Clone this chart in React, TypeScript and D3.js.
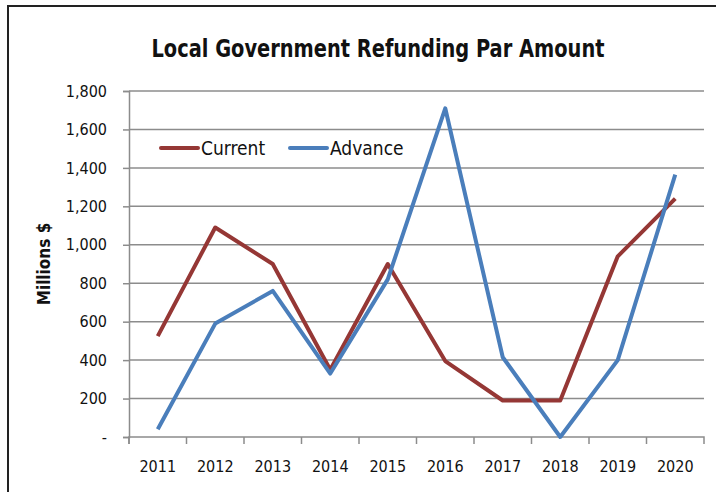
import React, { useEffect, useRef } from "react";
import * as d3 from "d3";

const years = ["2011", "2012", "2013", "2014", "2015", "2016", "2017", "2018", "2019", "2020"];
const current = [525, 1090, 900, 350, 900, 395, 190, 190, 940, 1240];
const advance = [40, 590, 760, 330, 820, 1710, 415, 0, 400, 1365];
const yTicks = [0, 200, 400, 600, 800, 1000, 1200, 1400, 1600, 1800];

const FONT = "'DejaVu Sans Condensed', 'Liberation Sans Narrow', 'Liberation Sans', Arial, sans-serif";

const App = () => {
  const svgRef = useRef<SVGSVGElement>(null);

  useEffect(() => {
    const width = 716, height = 492;
    const left = 129, right = 704, top = 91, bottom = 437;

    const svg = d3.select(svgRef.current)
      .attr("width", width)
      .attr("height", height)
      .style("position", "absolute")
      .style("left", "0px")
      .style("top", "0px")
      .style("background", "#fff");
    svg.selectAll("*").remove();

    // outer frame (top + left only visible)
    svg.append("line").attr("x1", 7).attr("x2", width).attr("y1", 6).attr("y2", 6)
      .attr("stroke", "#222").attr("stroke-width", 2);
    svg.append("line").attr("x1", 8).attr("x2", 8).attr("y1", 6).attr("y2", height)
      .attr("stroke", "#222").attr("stroke-width", 2);

    const x = d3.scaleBand().domain(years).range([left, right]);
    const y = d3.scaleLinear().domain([0, 1800]).range([bottom, top]);

    // gridlines
    svg.append("g").selectAll("line")
      .data(yTicks.filter(d => d > 0))
      .enter().append("line")
      .attr("x1", left).attr("x2", right)
      .attr("y1", d => y(d)).attr("y2", d => y(d))
      .attr("stroke", "#8c8c8c").attr("stroke-width", 1.5);

    const yAxis = svg.append("g")
      .attr("transform", `translate(${left},0)`)
      .call(d3.axisLeft(y).tickValues(yTicks).tickSize(6).tickPadding(16)
        .tickFormat(d => (+d === 0 ? "-" : d3.format(",")(+d))));
    yAxis.select(".domain").attr("stroke", "#8c8c8c").attr("stroke-width", 1.5);
    yAxis.selectAll(".tick line").attr("stroke", "#8c8c8c").attr("stroke-width", 1.5);
    yAxis.selectAll("text").attr("font-family", FONT).attr("font-size", 16).attr("fill", "#111");

    const xAxis = svg.append("g")
      .attr("transform", `translate(0,${bottom})`)
      .call(d3.axisBottom(x).tickSize(0).tickPadding(24));
    xAxis.select(".domain").attr("stroke", "#8c8c8c").attr("stroke-width", 1.5)
      .attr("d", `M${left},7V0H${right}V7`);
    xAxis.selectAll("text").attr("font-family", FONT).attr("font-size", 16).attr("fill", "#111");

    // x tick marks at band boundaries
    svg.append("g").selectAll("line")
      .data(years)
      .enter().append("line")
      .attr("x1", d => x(d)!).attr("x2", d => x(d)!)
      .attr("y1", bottom).attr("y2", bottom + 7)
      .attr("stroke", "#8c8c8c").attr("stroke-width", 1.5);

    const line = d3.line<number>()
      .x((_, i) => x(years[i])! + x.bandwidth() / 2)
      .y(d => y(d));

    svg.append("path").datum(current)
      .attr("d", line).attr("fill", "none")
      .attr("stroke", "#953735").attr("stroke-width", 4).attr("stroke-linejoin", "round");
    svg.append("path").datum(advance)
      .attr("d", line).attr("fill", "none")
      .attr("stroke", "#4a7ebb").attr("stroke-width", 4).attr("stroke-linejoin", "round");

    // legend
    const legend = [
      { name: "Current", color: "#953735", x: 161 },
      { name: "Advance", color: "#4a7ebb", x: 290 }
    ];
    const lg = svg.append("g").selectAll("g").data(legend).enter().append("g");
    lg.append("line")
      .attr("x1", d => d.x).attr("x2", d => d.x + 37)
      .attr("y1", 148).attr("y2", 148)
      .attr("stroke", d => d.color).attr("stroke-width", 4).attr("stroke-linecap", "round");
    lg.append("text")
      .attr("x", d => d.x + 40).attr("y", 155)
      .attr("font-family", FONT).attr("font-size", 19).attr("fill", "#111")
      .text(d => d.name);

    svg.append("text")
      .attr("x", 378).attr("y", 57)
      .attr("text-anchor", "middle")
      .attr("font-family", FONT).attr("font-size", 24).attr("font-weight", "bold")
      .attr("fill", "#111")
      .attr("textLength", 453).attr("lengthAdjust", "spacingAndGlyphs")
      .text("Local Government Refunding Par Amount");

    svg.append("text")
      .attr("transform", "rotate(-90)")
      .attr("x", -(top + bottom) / 2).attr("y", 50)
      .attr("text-anchor", "middle")
      .attr("font-family", FONT).attr("font-size", 17).attr("font-weight", "bold")
      .attr("fill", "#111")
      .text("Millions $");
  }, []);

  return <svg ref={svgRef}></svg>;
};

export default App;
